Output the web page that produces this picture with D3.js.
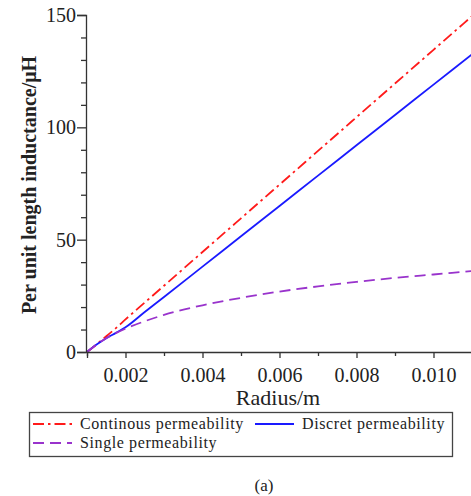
<!DOCTYPE html>
<html>
<head>
<meta charset="utf-8">
<script src="https://cdn.jsdelivr.net/npm/d3@7"></script>
<style>
  body { margin: 0; background: #fff; }
</style>
</head>
<body>
<div class="chart"></div>
<script>
// values
var radius = [0.001, 0.00125, 0.0015, 0.00175, 0.002, 0.0025, 0.003, 0.004, 0.005, 0.006, 0.007, 0.008, 0.009, 0.010, 0.011];
var continous = [0, 3.4, 7, 10.6, 14.5, 22, 29.5, 44.5, 59.5, 74.5, 89.5, 104.5, 119.5, 134.5, 149.5];
var discret = [0, 3.3, 6.1, 8.5, 11, 17.8, 24.5, 38, 51.5, 65, 78.5, 92, 105.5, 119, 132.5];
var single = [0, 3.3, 6.1, 8.4, 10.4, 13.7, 16.5, 20.8, 24.1, 26.9, 29.2, 31.2, 33, 34.5, 36];
var xTicks = [0.002, 0.004, 0.006, 0.008, 0.010];
var yTicks = [0, 50, 100, 150];

var svgWidth = 471;
var svgHeight = 496;
var serif = "Liberation Serif";

var svg = d3.select(".chart").append("svg")
  .attr("width", svgWidth)
  .attr("height", svgHeight)
  .style("display", "block");

var x = d3.scaleLinear().domain([0.001, 0.011]).range([87, 472]);
var y = d3.scaleLinear().domain([0, 150]).range([352, 15]);

// curves
var series = [
  { name: "Continous permeability", values: continous, color: "#ff1a1a", dash: "11,4,2.5,4" },
  { name: "Discret permeability", values: discret, color: "#1a1aff", dash: null },
  { name: "Single permeability", values: single, color: "#9933cc", dash: "11,6" }
];

var line = d3.line()
  .x((d, i) => x(radius[i]))
  .y(d => y(d))
  .curve(d3.curveMonotoneX);

series.forEach(function(s) {
  svg.append("path")
    .datum(s.values)
    .attr("d", line)
    .attr("fill", "none")
    .attr("stroke", s.color)
    .attr("stroke-width", 1.8)
    .attr("stroke-dasharray", s.dash);
});

// y axis
svg.append("g")
  .attr("transform", "translate(86,0)")
  .call(d3.axisLeft(y).tickValues(yTicks).tickSize(9).tickPadding(1).tickFormat(d3.format("d")));
svg.append("g")
  .attr("transform", "translate(86,0)")
  .call(d3.axisLeft(y).tickValues(d3.range(0, 151, 10).filter(v => v % 50)).tickSize(5).tickFormat(""))
  .select(".domain").remove();

// x axis
svg.append("g")
  .attr("transform", "translate(0,352)")
  .call(d3.axisBottom(x).tickValues(xTicks).tickSize(6).tickPadding(10).tickFormat(d3.format(".3f")));
svg.append("g")
  .attr("transform", "translate(0,352)")
  .call(d3.axisBottom(x).tickValues([0.001, 0.003, 0.005, 0.007, 0.009, 0.011]).tickSize(4).tickFormat(""))
  .select(".domain").remove();

svg.selectAll("g").attr("font-family", serif);
svg.selectAll(".domain, .tick line").attr("stroke", "#333").attr("stroke-width", 1.3);
svg.selectAll(".tick text")
  .attr("font-family", serif)
  .attr("font-size", 20)
  .attr("fill", "#222");

// axis titles
svg.append("text")
  .attr("x", 278)
  .attr("y", 405)
  .attr("text-anchor", "middle")
  .attr("font-family", serif)
  .attr("font-size", 22)
  .attr("fill", "#222")
  .text("Radius/m");

svg.append("text")
  .attr("transform", "translate(36,185) rotate(-90)")
  .attr("text-anchor", "middle")
  .attr("font-family", serif)
  .attr("font-size", 20)
  .attr("font-weight", "bold")
  .attr("fill", "#222")
  .text("Per unit length inductance/μH");

// legend
svg.append("rect")
  .attr("x", 29.5).attr("y", 412.5)
  .attr("width", 423).attr("height", 44)
  .attr("fill", "none")
  .attr("stroke", "#444")
  .attr("stroke-width", 1.3);

var legendPos = [[33, 424], [255, 424], [33, 443]];
series.forEach(function(s, i) {
  var p = legendPos[i];
  svg.append("line")
    .attr("x1", p[0]).attr("x2", p[0] + 39)
    .attr("y1", p[1]).attr("y2", p[1])
    .attr("stroke", s.color)
    .attr("stroke-width", 1.8)
    .attr("stroke-dasharray", s.dash);
  svg.append("text")
    .attr("x", p[0] + 47)
    .attr("y", p[1] + 5)
    .attr("font-family", serif)
    .attr("font-size", 16)
    .attr("letter-spacing", 0.6)
    .attr("fill", "#222")
    .text(s.name);
});

svg.append("text")
  .attr("x", 264)
  .attr("y", 491)
  .attr("text-anchor", "middle")
  .attr("font-family", serif)
  .attr("font-size", 17)
  .attr("fill", "#222")
  .text("(a)");
</script>
</body>
</html>
